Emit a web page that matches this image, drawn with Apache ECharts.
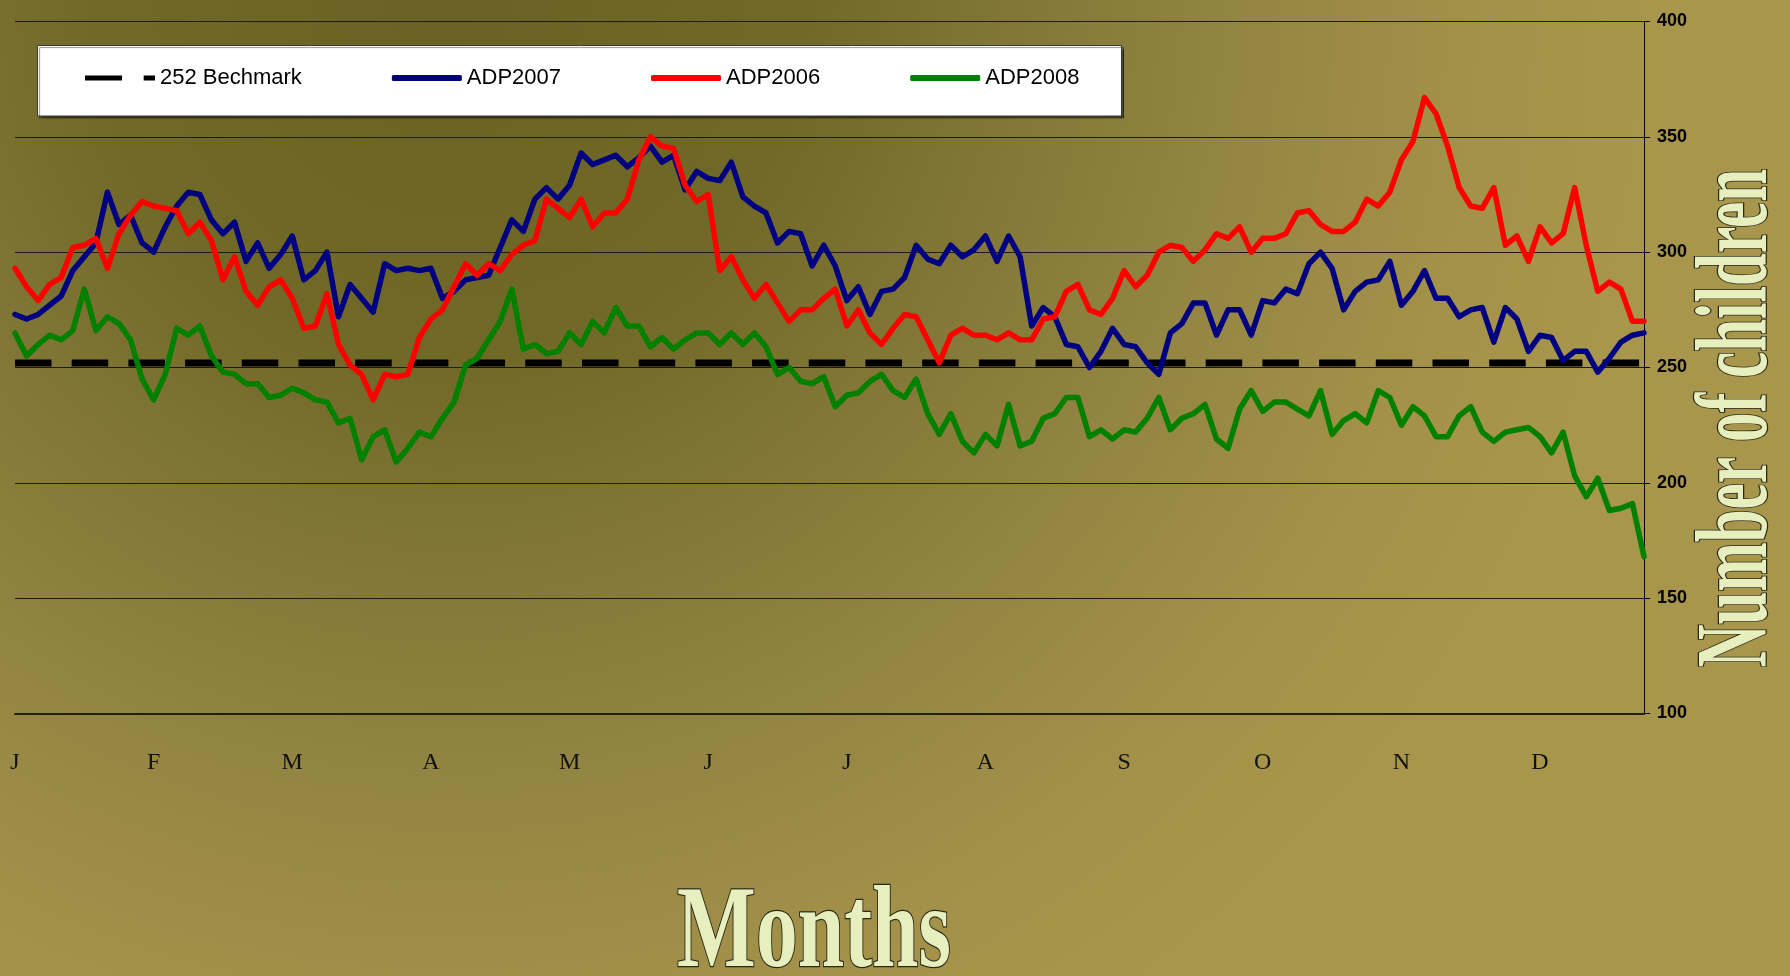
<!DOCTYPE html>
<html>
<head>
<meta charset="utf-8">
<script src="https://cdn.jsdelivr.net/npm/echarts@6/dist/echarts.min.js"></script>
<style>
html,body{margin:0;padding:0;background:#a69449;}
#chart{width:1790px;height:976px;}
</style>
</head>
<body>
<div id="chart"></div>
<script>
// ---- data ----
const monthLetters = ['J','F','M','A','M','J','J','A','S','O','N','D'];
const pointsPerMonth = 12;
const benchmarkValue = 252;
const yMin = 100, yMax = 400, yStep = 50;

const adp2007 = [
 273,271,273,277,281,292,298,304,326,312,316,304,300,311,320,326,325,314,308,313,
 296,304,293,299,307,288,292,300,272,286,280,274,295,292,293,292,293,280,283,288,
 289,290,302,314,309,323,328,323,329,343,338,340,342,337,341,346,339,342,327,335,
 332,331,339,324,320,317,304,309,308,294,303,294,279,285,273,283,284,289,303,297,
 295,303,298,301,307,296,307,298,268,276,272,260,259,250,257,267,260,259,252,247,
 265,269,278,278,264,275,275,264,279,278,284,282,295,300,293,275,283,287,288,296,
 277,283,292,280,280,272,275,276,261,276,271,257,264,263,253,257,257,248,254,261,
 264,265
];
const adp2006 = [
 293,285,279,286,289,302,303,306,293,308,316,322,320,319,318,308,313,305,288,298,
 283,277,285,288,280,267,268,282,260,251,247,236,247,246,247,263,271,275,285,295,
 290,295,292,299,303,305,323,319,315,323,311,317,317,323,340,350,346,345,329,322,
 325,292,298,288,280,286,278,270,275,275,280,284,268,275,265,260,267,273,272,262,
 252,264,267,264,264,262,265,262,262,271,272,283,286,275,273,280,292,285,290,300,
 303,302,296,301,308,306,311,300,306,306,308,317,318,312,309,309,313,323,320,326,
 340,348,367,360,346,328,320,319,328,303,307,296,311,304,308,328,303,283,287,284,
 270,270
];
const adp2008 = [
 265,255,260,264,262,266,284,266,272,269,262,245,236,247,267,264,268,255,248,247,
 243,243,237,238,241,239,236,235,226,228,210,220,223,209,215,222,220,228,235,251,
 254,262,270,284,258,260,256,257,265,260,270,265,276,268,268,259,263,258,262,265,
 265,260,265,260,265,259,247,250,244,243,246,233,238,239,244,247,240,237,245,230,
 221,230,218,213,221,216,234,216,218,228,230,237,237,220,223,219,223,222,228,237,
 223,228,230,234,219,215,232,240,231,235,235,232,229,240,221,227,230,226,240,237,
 225,233,229,220,220,229,233,222,218,222,223,224,220,213,222,203,194,202,188,189,
 191,168
];

const categories = adp2007.map((_, i) => monthLetters[Math.floor(i / pointsPerMonth)]);
const benchmark = categories.map(() => benchmarkValue);

const seriesNames = ['252 Bechmark', 'ADP2007', 'ADP2006', 'ADP2008'];
const seriesColors = ['#000000', '#000080', '#ff0000', '#008000'];

// ---- chart ----
const chart = echarts.init(document.getElementById('chart'), null, {renderer: 'canvas'});

const titleFill = '#e7efbf';
const titleStroke = '#2a2918';

chart.setOption({
  animation: false,
  backgroundColor: {
    type: 'radial', x: 450, y: 0, r: 1200, global: true,
    colorStops: [
      {offset: 0, color: '#6a6222'},
      {offset: 0.3, color: '#716928'},
      {offset: 0.6, color: '#8e8140'},
      {offset: 0.85, color: '#a39149'},
      {offset: 1, color: '#a8964c'}
    ]
  },
  textStyle: {fontFamily: '"Liberation Sans", Arial, sans-serif'},
  grid: {left: 15, right: 146, top: 21.5, bottom: 262.5, containLabel: false, outerBoundsMode: 'none'},
  legend: {
    left: 85, top: 67, padding: 0,
    itemWidth: 70, itemHeight: 6, itemGap: 90,
    textStyle: {fontFamily: '"Liberation Sans", Arial, sans-serif', fontSize: 22, color: '#000'},
    data: [
      {name: seriesNames[0], icon: 'path://M0,0H36V5H0ZM57,0H68V5H57Z'},
      {name: seriesNames[1], icon: 'roundRect'},
      {name: seriesNames[2], icon: 'roundRect'},
      {name: seriesNames[3], icon: 'roundRect'}
    ],
    selectedMode: false
  },
  graphic: [
    {
      type: 'rect', z: 3, silent: true,
      shape: {x: 37.5, y: 45.5, width: 1084, height: 70.5},
      style: {fill: '#ffffff', stroke: '#3a3a3a', lineWidth: 1,
              shadowColor: 'rgba(0,0,0,0.45)', shadowOffsetX: 2, shadowOffsetY: 2, shadowBlur: 1}
    },
    {
      type: 'text', z: 10, silent: true,
      x: 814, y: 936, scaleX: 0.72,
      style: {text: 'Months', font: 'bold 116px "Liberation Serif", "Times New Roman", serif',
              fill: titleFill, stroke: titleStroke, lineWidth: 2.5,
              align: 'center', verticalAlign: 'middle', textAlign: 'center', textVerticalAlign: 'middle'}
    },
    {
      type: 'text', z: 10, silent: true,
      x: 1740, y: 418, rotation: Math.PI / 2, scaleX: 0.58,
      style: {text: 'Number of children', font: 'bold 102px "Liberation Serif", "Times New Roman", serif',
              fill: titleFill, stroke: titleStroke, lineWidth: 2.5,
              align: 'center', verticalAlign: 'middle', textAlign: 'center', textVerticalAlign: 'middle'}
    }
  ],
  xAxis: {
    type: 'category',
    data: categories,
    boundaryGap: false,
    axisLine: {show: true, lineStyle: {color: '#22210f', width: 2}},
    axisTick: {show: false},
    splitLine: {show: false},
    axisLabel: {
      interval: pointsPerMonth - 1,
      margin: 37,
      fontFamily: '"Liberation Serif", "Times New Roman", serif',
      fontSize: 24,
      color: '#111'
    }
  },
  yAxis: {
    type: 'value',
    position: 'right',
    min: yMin, max: yMax, interval: yStep,
    axisLine: {show: true, lineStyle: {color: '#000', width: 1}},
    axisTick: {show: true, inside: false, length: 6, lineStyle: {color: '#000', width: 1}},
    axisLabel: {margin: 13, fontFamily: '"Liberation Sans", Arial, sans-serif', fontWeight: 'bold', fontSize: 18, color: '#000'},
    splitLine: {show: true, lineStyle: {color: '#1d1c0e', width: 1}}
  },
  series: [
    {
      name: seriesNames[0], type: 'line', data: benchmark, symbol: 'none', silent: true,
      lineStyle: {color: seriesColors[0], width: 7, type: [36.5, 20.2], cap: 'butt'},
      itemStyle: {color: seriesColors[0]}, emphasis: {disabled: true}, z: 2
    },
    {
      name: seriesNames[1], type: 'line', data: adp2007, symbol: 'none', silent: true,
      lineStyle: {color: seriesColors[1], width: 5.5, cap: 'round', join: 'round'},
      itemStyle: {color: seriesColors[1]}, emphasis: {disabled: true}, z: 3
    },
    {
      name: seriesNames[2], type: 'line', data: adp2006, symbol: 'none', silent: true,
      lineStyle: {color: seriesColors[2], width: 5.5, cap: 'round', join: 'round'},
      itemStyle: {color: seriesColors[2]}, emphasis: {disabled: true}, z: 3
    },
    {
      name: seriesNames[3], type: 'line', data: adp2008, symbol: 'none', silent: true,
      lineStyle: {color: seriesColors[3], width: 5.5, cap: 'round', join: 'round'},
      itemStyle: {color: seriesColors[3]}, emphasis: {disabled: true}, z: 3
    }
  ]
});
</script>
</body>
</html>
